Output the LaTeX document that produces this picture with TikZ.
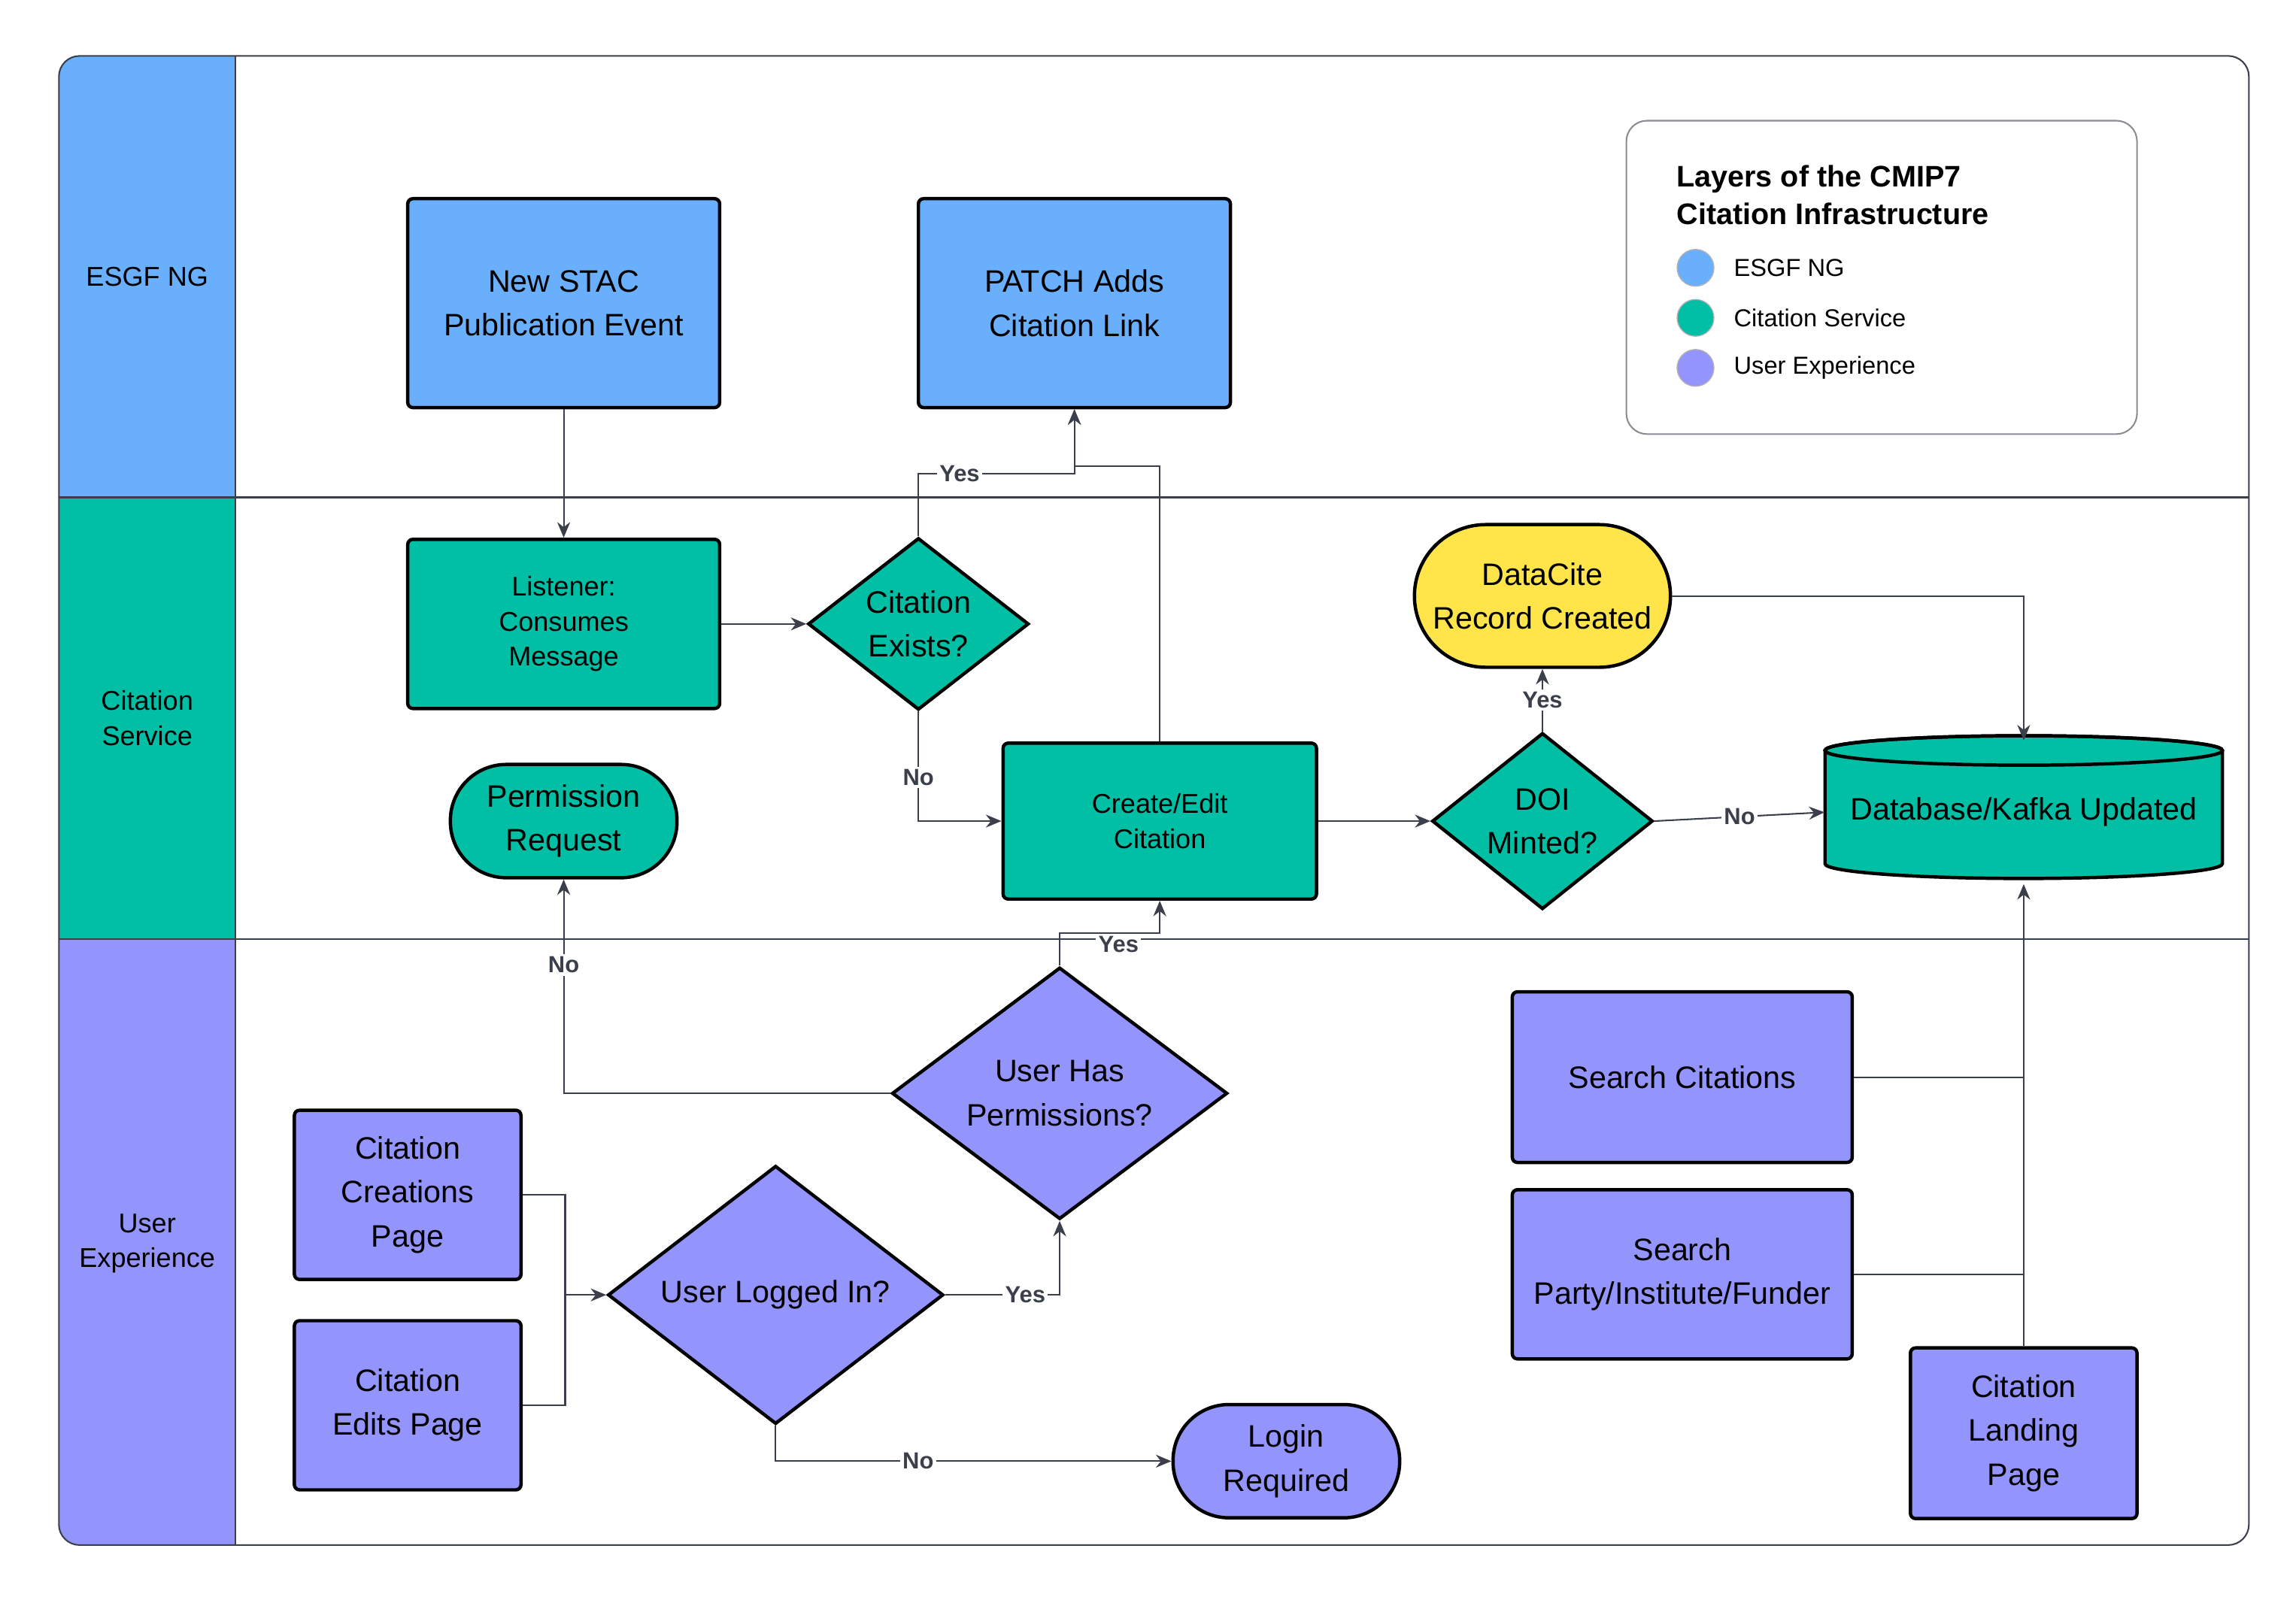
\documentclass[tikz,border=0pt]{standalone}
\usepackage{fontspec}
\setmainfont{Liberation Sans}
\usetikzlibrary{shapes.geometric,arrows.meta,positioning,calc}
\definecolor{cblue}{HTML}{6AAFFC}
\definecolor{cteal}{HTML}{00BFA5}
\definecolor{cpurple}{HTML}{9494FD}
\definecolor{cyellow}{HTML}{FFE54A}
\definecolor{cline}{HTML}{3A3F4B}
\begin{document}
\begin{tikzpicture}[
    x=0.02cm, y=-0.02cm,
    box/.style={rectangle, rounded corners=2pt, draw=black, line width=1.3pt, align=center,
        font=\fontsize{12}{17}\selectfont},
    smallbox/.style={box, font=\fontsize{10.5}{13.5}\selectfont},
    decision/.style={diamond, draw=black, line width=1.3pt, align=center, inner sep=0pt,
        font=\fontsize{12}{17}\selectfont},
    terminal/.style={rectangle, draw=black, line width=1.3pt, align=center,
        rounded corners=0.76cm, minimum width=3.08cm, minimum height=1.54cm,
        font=\fontsize{12}{17}\selectfont},
    lane/.style={align=center, font=\fontsize{10.5}{13.5}\selectfont},
    link/.style={-{Stealth[length=6pt,width=5pt]}, draw=cline, line width=0.6pt},
    tag/.style={fill=white, inner sep=1pt, text=cline, font=\fontsize{9}{11}\selectfont\bfseries},
    dot/.style={circle, draw=cline!40, fill=#1, minimum size=0.5cm, inner sep=0pt}
]
    \useasboundingbox (0,0) rectangle (1560,1085);

    % Lanes
    \begin{scope}
        \clip[rounded corners=8pt] (40,38) rectangle (1528,1050);
        \fill[cblue] (40,38) rectangle (160,338);
        \fill[cteal] (40,338) rectangle (160,638);
        \fill[cpurple] (40,638) rectangle (160,1050);
    \end{scope}
    \draw[cline, line width=0.6pt, rounded corners=8pt] (40,38) rectangle (1528,1050);
    \draw[cline, line width=0.6pt] (160,38) -- (160,1050);
    \draw[cline, line width=0.6pt] (40,338) -- (1528,338);
    \draw[cline, line width=0.6pt] (40,638) -- (1528,638);
    \node[lane] (esgf) at (100,188) {ESGF NG};
    \node[lane] (cite) at (100,488) {Citation\\Service};
    \node[lane] (ux) at (100,845) {User\\Experience};

    % Legend
    \draw[cline!60, line width=0.6pt, rounded corners=8pt] (1105,82) rectangle (1452,295);
    \node[anchor=north west, align=left, font=\fontsize{11.5}{14.5}\selectfont\bfseries] (legtitle)
        at (1133,106) {Layers of the CMIP7\\Citation Infrastructure};
    \node[dot=cblue] (d1) at (1152,182) {};
    \node[dot=cteal] (d2) at (1152,216) {};
    \node[dot=cpurple] (d3) at (1152,250) {};
    \node[right=4pt of d1, font=\fontsize{9.5}{11}\selectfont] {ESGF NG};
    \node[right=4pt of d2, font=\fontsize{9.5}{11}\selectfont] {Citation Service};
    \node[right=4pt of d3, font=\fontsize{9.5}{11}\selectfont] {User Experience};

    % ESGF NG
    \node[box, fill=cblue, minimum width=4.24cm, minimum height=2.84cm] (stac) at (383,206) {New STAC\\Publication Event};
    \node[box, fill=cblue, minimum width=4.24cm, minimum height=2.84cm] (patch) at (730,206) {PATCH Adds\\Citation Link};

    % Citation Service
    \node[smallbox, fill=cteal, minimum width=4.24cm, minimum height=2.3cm] (listen) at (383,424) {Listener:\\Consumes\\Message};
    \node[decision, fill=cteal, minimum width=3cm, minimum height=2.28cm] (exists) at (624,424) {Citation\\Exists?};
    \node[smallbox, fill=cteal, minimum width=4.26cm, minimum height=2.12cm] (edit) at (788,558) {Create/Edit\\Citation};
    \node[decision, fill=cteal, minimum width=3cm, minimum height=2.24cm] (doi) at (1048,558) {DOI\\Minted?};
    \node[terminal, fill=cyellow, minimum width=3.48cm, minimum height=1.94cm, rounded corners=0.97cm] (datacite) at (1048,405) {DataCite\\Record Created};
    \node[terminal, fill=cteal] (perm) at (383,558) {Permission\\Request};
    \draw[black, line width=1.3pt, fill=cteal] (1240,510) -- (1240,587)
        arc[x radius=2.7cm, y radius=0.2cm, start angle=180, end angle=360] -- (1510,510)
        arc[x radius=2.7cm, y radius=0.2cm, start angle=0, end angle=180] -- cycle;
    \draw[black, line width=1.3pt] (1375,510) ellipse[x radius=2.7cm, y radius=0.2cm];
    \node[minimum width=5.4cm, minimum height=1.94cm, font=\fontsize{12}{17}\selectfont] (db) at (1375,552) {Database/Kafka Updated};

    % User Experience
    \node[decision, fill=cpurple, minimum width=4.56cm, minimum height=3.4cm] (hasperm) at (720,743) {User Has\\Permissions?};
    \node[box, fill=cpurple, minimum width=3.08cm, minimum height=2.3cm] (creations) at (277,812) {Citation\\Creations\\Page};
    \node[box, fill=cpurple, minimum width=3.08cm, minimum height=2.3cm] (edits) at (277,955) {Citation\\Edits Page};
    \node[decision, fill=cpurple, minimum width=4.56cm, minimum height=3.4cm] (logged) at (527,880) {User Logged In?};
    \node[terminal, fill=cpurple] (login) at (874,993) {Login\\Required};
    \node[box, fill=cpurple, minimum width=4.62cm, minimum height=2.32cm] (search) at (1143,732) {Search Citations};
    \node[box, fill=cpurple, minimum width=4.62cm, minimum height=2.3cm] (party) at (1143,866) {Search\\Party/Institute/Funder};
    \node[box, fill=cpurple, minimum width=3.08cm, minimum height=2.32cm] (landing) at (1375,974) {Citation\\Landing\\Page};

    % Connectors
    \draw[link] (stac) -- (listen);
    \draw[link] (listen) -- (exists);
    \draw[link] (exists.north) |- (680,322) node[tag, pos=0.75] {Yes} -| (patch.south);
    \draw[link] (edit.north) |- (730,317) -- (patch.south);
    \draw[link] (exists.south) |- (edit.west) node[tag, pos=0.3] {No};
    \draw[link] (edit) -- (doi);
    \draw[link] (doi.north) -- node[tag] {Yes} (datacite.south);
    \draw[link] (doi.east) -- node[tag] {No} (db.west);
    \draw[link] (datacite.east) -| (db.north);
    \draw[link] (hasperm.north) |- (760,634) node[tag, pos=1, below] {Yes} -| (edit.south);
    \draw[link] (hasperm.west) -| node[tag, pos=0.8] {No} (perm.south);
    \draw[link] (creations.east) -| (384,880) -- (logged.west);
    \draw[cline, line width=0.6pt] (edits.east) -| (384,880);
    \draw[link] (logged.east) -| node[tag, pos=0.35] {Yes} (hasperm.south);
    \draw[link] (logged.south) |- node[tag, pos=0.68] {No} (login.west);
    \draw[link] (search.east) -| (db.south);
    \draw[cline, line width=0.6pt] (party.east) -| (1375,732);
    \draw[cline, line width=0.6pt] (landing.north) -- (1375,866);
\end{tikzpicture}
\end{document}
